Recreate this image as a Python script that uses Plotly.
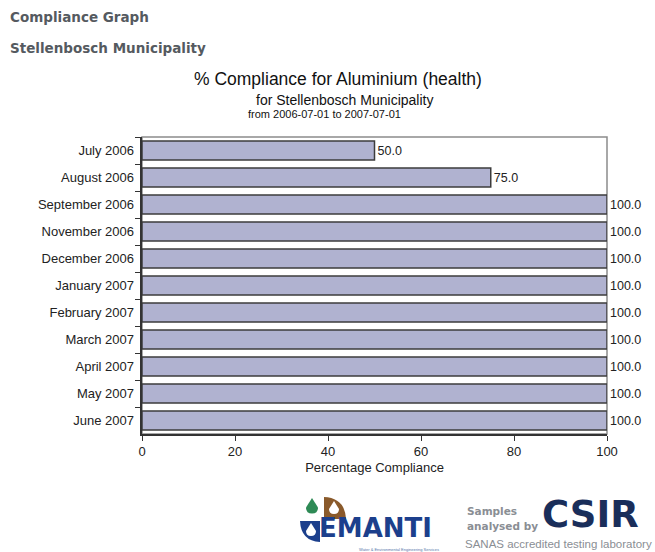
import plotly.graph_objects as go

categories = ["July 2006", "August 2006", "September 2006", "November 2006",
              "December 2006", "January 2007", "February 2007", "March 2007",
              "April 2007", "May 2007", "June 2007"]
values = [50.0, 75.0, 100.0, 100.0, 100.0, 100.0, 100.0, 100.0, 100.0, 100.0, 100.0]
x_ticks = [0, 20, 40, 60, 80, 100]

W, H = 655, 552
L, R, T, B = 142, 607, 137, 434


def px(x):
    return (x - L) / (R - L)


def py(y):
    return (B - y) / (B - T)


fig = go.Figure()
fig.add_trace(go.Bar(
    y=categories, x=values, orientation="h",
    marker=dict(color="#b0b2d0", line=dict(color="#3c3c3c", width=1.5)),
    width=0.7,
    text=[f"{v:.1f}" for v in values], textposition="outside",
    textfont=dict(family="Liberation Sans, Arial", size=12.5, color="#222"),
    cliponaxis=False, showlegend=False,
))

font = "Liberation Sans, Arial, sans-serif"
hfont = "DejaVu Sans, Verdana"
ann = []
ann.append(dict(text="<b>Compliance Graph</b>", x=px(8), y=py(17), xanchor="left", yanchor="middle",
                font=dict(family=hfont, size=13.5, color="#555a60")))
ann.append(dict(text="<b>Stellenbosch Municipality</b>", x=px(8), y=py(48), xanchor="left", yanchor="middle",
                font=dict(family=hfont, size=13.5, color="#555a60")))
ann.append(dict(text="% Compliance for Aluminium (health)", x=px(338), y=py(79), xanchor="center", yanchor="middle",
                font=dict(family=font, size=17.5, color="#111")))
ann.append(dict(text="for Stellenbosch Municipality", x=px(344), y=py(100), xanchor="center", yanchor="middle",
                font=dict(family=font, size=14, color="#111")))
ann.append(dict(text="from 2006-07-01 to 2007-07-01", x=px(324), y=py(114), xanchor="center", yanchor="middle",
                font=dict(family=font, size=11, color="#111")))
# EMANTI logo (approximate)
ann.append(dict(text="<b>EMANTI</b>", x=px(317), y=py(528), xanchor="left", yanchor="middle",
                font=dict(family="DejaVu Sans", size=26, color="#1c3f8c")))
ann.append(dict(text="Water & Environmental Engineering Services", x=px(441), y=py(549), xanchor="right", yanchor="middle",
                font=dict(family=font, size=4, color="#5577aa")))
# CSIR block
ann.append(dict(text="<b>Samples</b>", x=px(465), y=py(511), xanchor="left", yanchor="middle",
                font=dict(family="DejaVu Sans", size=10.5, color="#8a8e94")))
ann.append(dict(text="<b>analysed by</b>", x=px(465), y=py(526), xanchor="left", yanchor="middle",
                font=dict(family="DejaVu Sans", size=10.5, color="#8a8e94")))
ann.append(dict(text="<b>CSIR</b>", x=px(540), y=py(514), xanchor="left", yanchor="middle",
                font=dict(family="DejaVu Sans", size=37, color="#1a2e5a")))
ann.append(dict(text="SANAS accredited testing laboratory", x=px(463), y=py(544), xanchor="left", yanchor="middle",
                font=dict(family=font, size=11.5, color="#8a8e94")))
for a in ann:
    a.update(xref="paper", yref="paper", showarrow=False)


def drop(cx, top, r, fill):
    d = (f"M {px(cx)},{py(top)} L {px(cx + r)},{py(top + 1.6 * r)} "
         f"Q {px(cx + r)},{py(top + 2.6 * r)} {px(cx)},{py(top + 2.6 * r)} "
         f"Q {px(cx - r)},{py(top + 2.6 * r)} {px(cx - r)},{py(top + 1.6 * r)} Z")
    return dict(type="path", xref="paper", yref="paper", path=d, fillcolor=fill, line=dict(width=0))


shapes = [
    dict(type="rect", xref="paper", yref="paper", x0=0, x1=1, y0=0, y1=1,
         line=dict(color="#8c8c8c", width=1.5), layer="below"),
    # brown quarter (top-right)
    dict(type="path", xref="paper", yref="paper",
         path=f"M {px(324)},{py(519)} L {px(324)},{py(497)} Q {px(345)},{py(498)} {px(346)},{py(519)} Z",
         fillcolor="#8a5a2b", line=dict(width=0)),
    # blue quarter (bottom-left)
    dict(type="path", xref="paper", yref="paper",
         path=f"M {px(320)},{py(521)} L {px(300)},{py(521)} Q {px(301)},{py(541)} {px(320)},{py(542)} Z",
         fillcolor="#1c3f8c", line=dict(width=0)),
    drop(312, 498, 6, "#2e8a55"),
    drop(334, 501, 5, "white"),
    drop(311, 523, 5, "white"),
]
fig.update_layout(
    width=W, height=H,
    margin=dict(l=L, r=W - R, t=T, b=H - B, pad=0),
    paper_bgcolor="white", plot_bgcolor="white",
    annotations=ann, shapes=shapes,
    xaxis=dict(range=[0, 100], tickvals=x_ticks, ticks="outside", ticklen=5, tickcolor="#333",
               showgrid=False, zeroline=False, showline=True, linecolor="#333", linewidth=1.5,
               tickfont=dict(family=font, size=13, color="#222"),
               title=dict(text="Percentage Compliance", font=dict(family=font, size=13, color="#222"), standoff=5),
               fixedrange=True),
    yaxis=dict(categoryorder="array", categoryarray=categories, autorange="reversed",
               ticks="outside", ticklen=5, tickcolor="#333", tickson="boundaries",
               showgrid=False, showline=True, linecolor="#333", linewidth=1.5,
               tickfont=dict(family=font, size=13, color="#222"), ticksuffix=" ",
               fixedrange=True),
)
fig.write_html("out.html")
